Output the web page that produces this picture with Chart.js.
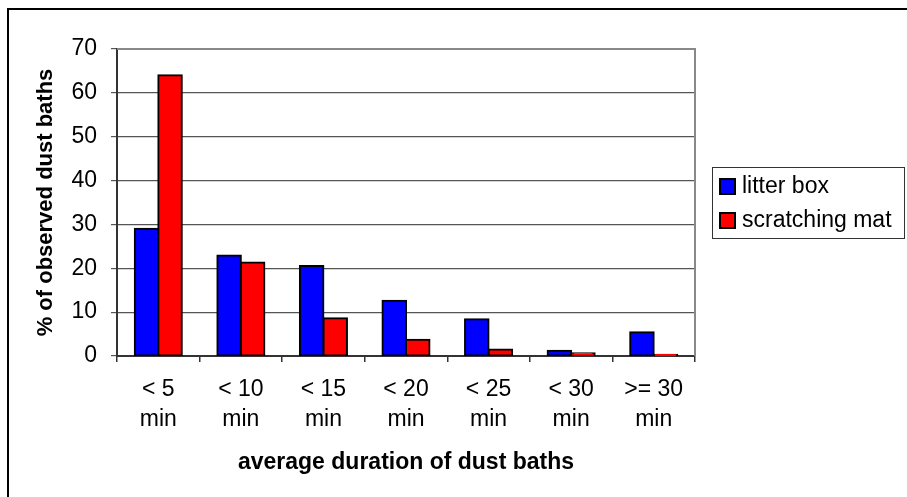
<!DOCTYPE html>
<html>
<head>
<meta charset="utf-8">
<script src="https://cdn.jsdelivr.net/npm/chart.js@4/dist/chart.umd.min.js"></script>
<style>
  html, body { margin: 0; padding: 0; background: #fff; }
  #wrap { width: 907px; height: 497px; }
</style>
</head>
<body>
<div id="wrap"><canvas id="c" width="907" height="497"></canvas></div>
<script>
// Duration classes of dust baths
const categories = [["< 5", "min"], ["< 10", "min"], ["< 15", "min"], ["< 20", "min"], ["< 25", "min"], ["< 30", "min"], [">= 30", "min"]];
// Share of observed dust baths (%) per substrate
const litterBox = [29, 22.9, 20.5, 12.6, 8.4, 1.2, 5.4];
const scratchingMat = [64, 21.3, 8.6, 3.7, 1.5, 0.6, 0.3];
const seriesNames = ["litter box", "scratching mat"];
const seriesColors = ["#0000FF", "#FF0000"];
const yTicks = [0, 10, 20, 30, 40, 50, 60, 70];

const FONT = "'Liberation Sans', Arial, sans-serif";

// White page, outer frame and the plot-area frame
const framePlugin = {
  id: 'frame',
  beforeDraw(chart) {
    const ctx = chart.ctx;
    ctx.save();
    ctx.fillStyle = '#fff';
    ctx.fillRect(0, 0, chart.width, chart.height);
    ctx.strokeStyle = '#000';
    ctx.lineWidth = 2;
    ctx.beginPath();
    ctx.moveTo(8, chart.height + 2);
    ctx.lineTo(8, 9);
    ctx.lineTo(chart.width + 2, 9);
    ctx.stroke();
    ctx.restore();
  },
  afterDatasetsDraw(chart) {
    const {ctx, chartArea: a} = chart;
    ctx.save();
    ctx.strokeStyle = '#888';
    ctx.lineWidth = 2;
    ctx.beginPath();
    ctx.moveTo(a.left, a.top);
    ctx.lineTo(a.right, a.top);
    ctx.lineTo(a.right, a.bottom);
    ctx.stroke();
    ctx.restore();
  }
};

// Boxed legend to the right of the plot
const boxLegend = {
  id: 'boxLegend',
  afterDraw(chart) {
    const ctx = chart.ctx;
    const a = chart.chartArea;
    const left = 712, right = 904;
    const rowH = 34;
    const n = chart.data.datasets.length;
    const h = rowH * n + 3;
    const top = Math.round((a.top + a.bottom) / 2 - h / 2);
    ctx.save();
    ctx.strokeStyle = '#333';
    ctx.lineWidth = 1;
    ctx.strokeRect(left + 0.5, top + 0.5, right - left, h);
    ctx.font = '23px ' + FONT;
    ctx.textBaseline = 'middle';
    ctx.textAlign = 'left';
    chart.data.datasets.forEach((ds, i) => {
      const cy = top + 2 + rowH / 2 + i * rowH;
      ctx.fillStyle = ds.backgroundColor;
      ctx.fillRect(720, cy - 7, 15, 15);
      ctx.strokeStyle = '#000';
      ctx.lineWidth = 2;
      ctx.strokeRect(720, cy - 7, 15, 15);
      ctx.fillStyle = '#000';
      ctx.fillText(ds.label, 742, cy + 1);
    });
    ctx.restore();
  }
};

const barStyle = { borderColor: '#000', borderWidth: 2, borderSkipped: false, inflateAmount: 1 };

new Chart(document.getElementById('c'), {
  type: 'bar',
  data: {
    labels: categories,
    datasets: [
      Object.assign({ label: seriesNames[0], data: litterBox, backgroundColor: seriesColors[0] }, barStyle),
      Object.assign({ label: seriesNames[1], data: scratchingMat, backgroundColor: seriesColors[1] }, barStyle)
    ]
  },
  options: {
    responsive: false,
    animation: false,
    devicePixelRatio: 1,
    layout: { padding: { top: 49, right: 212, left: 0, bottom: 0 } },
    datasets: { bar: { categoryPercentage: 0.57, barPercentage: 1.0 } },
    plugins: {
      legend: { display: false },
      tooltip: { enabled: false },
      title: { display: false }
    },
    scales: {
      x: {
        afterFit(s) { s.height = 141; },
        grid: { offset: true, drawOnChartArea: false, drawTicks: true, tickLength: 6, color: '#333', lineWidth: 1.5 },
        border: { color: '#333', width: 2 },
        ticks: {
          color: '#000', padding: 13, maxRotation: 0, autoSkip: false,
          font: { family: FONT, size: 23, lineHeight: 1.28 }
        },
        title: {
          display: true, text: 'average duration of dust baths', color: '#000',
          font: { family: FONT, size: 23, weight: 'bold' },
          padding: { top: 0, bottom: 21 }
        }
      },
      y: {
        min: 0, max: 70,
        afterFit(s) { s.width = 117; },
        afterBuildTicks(s) { s.ticks = yTicks.map(v => ({ value: v })); },
        grid: { color: '#555', lineWidth: 1.2, tickLength: 6, drawTicks: true },
        border: { color: '#333', width: 2 },
        ticks: {
          color: '#000', padding: 14,
          font: { family: FONT, size: 23 }
        },
        title: {
          display: true, text: '% of observed dust baths', color: '#000',
          font: { family: FONT, size: 22, weight: 'bold' },
          padding: { top: 33, bottom: 0 }
        }
      }
    }
  },
  plugins: [framePlugin, boxLegend]
});
</script>
</body>
</html>
